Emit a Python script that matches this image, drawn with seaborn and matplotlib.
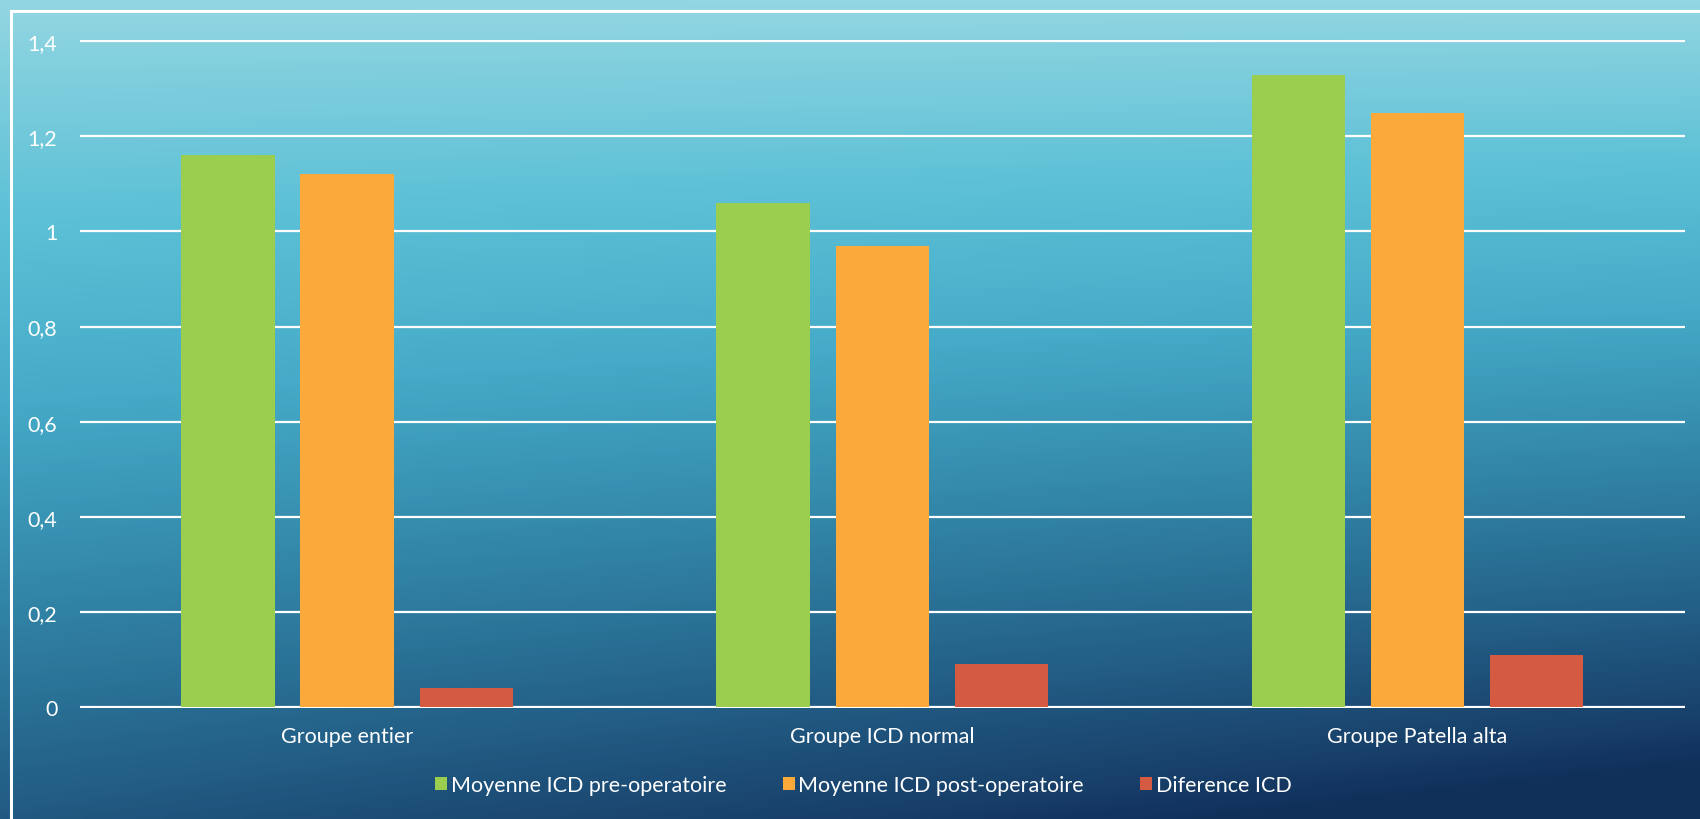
import numpy as np
import pandas as pd
import matplotlib
matplotlib.use("Agg")
import matplotlib.pyplot as plt
import matplotlib.patches as mpatches
from matplotlib.colors import LinearSegmentedColormap
import seaborn as sns

# ---- data ----
categories = ["Groupe entier", "Groupe ICD normal", "Groupe Patella alta"]
series = ["Moyenne ICD pre-operatoire", "Moyenne ICD post-operatoire", "Diference ICD"]
pre_values = [1.16, 1.06, 1.33]
post_values = [1.12, 0.97, 1.25]
diff_values = [0.04, 0.09, 0.11]
y_ticks = [0, 0.2, 0.4, 0.6, 0.8, 1.0, 1.2, 1.4]
y_tick_labels = ["0", "0,2", "0,4", "0,6", "0,8", "1", "1,2", "1,4"]
colors = ["#9BCD4E", "#FBA93B", "#D55A42"]

rows = []
for s, vals in zip(series, [pre_values, post_values, diff_values]):
    for c, v in zip(categories, vals):
        rows.append({"category": c, "series": s, "value": v})
df = pd.DataFrame(rows)

sns.set_theme(style="white")
plt.rcParams["font.family"] = ["Lato", "DejaVu Sans"]

W, H = 1700, 820
fig = plt.figure(figsize=(W / 100, H / 100), dpi=100)

# ---- background gradient ----
bg_ax = fig.add_axes([0, 0, 1, 1], zorder=-10)
bg_ax.set_axis_off()
ny, nx = 200, 400
yy, xx = np.mgrid[0:1:ny * 1j, 0:1:nx * 1j]
t = np.clip(0.82 * yy + 0.25 * xx * yy, 0, 1)
stops = [(0.0, "#92d6e1"), (0.22, "#5cc0d6"), (0.4, "#45abc8"),
         (0.6, "#3286a8"), (0.8, "#235e86"), (0.95, "#173e68"), (1.0, "#10305a")]
cmap = LinearSegmentedColormap.from_list("bg", stops)
bg_ax.imshow(t, cmap=cmap, vmin=0, vmax=1, aspect="auto", extent=[0, 1, 0, 1],
             origin="upper", interpolation="bilinear")
bg_ax.set_xlim(0, 1)
bg_ax.set_ylim(0, 1)

# white frame (extends beyond right and bottom)
frame = mpatches.Rectangle((11 / W, -0.2), 1.3, 1 - 12 / H + 0.2, fill=False,
                           ec="white", lw=2.2, transform=fig.transFigure, zorder=-5)
fig.patches.append(frame)

# ---- main axes ----
left, right = 79.5 / W, 1685 / W
bottom, top = 1 - 709 / H, 1 - 41.3 / H
ax = fig.add_axes([left, bottom, right - left, top - bottom])
ax.patch.set_alpha(0)

sns.barplot(data=df, x="category", y="value", hue="series", order=categories,
            hue_order=series, palette=colors, width=0.668, gap=0.218,
            saturation=1, linewidth=0, edgecolor="none", ax=ax, legend=True)

ax.set_xlim(-0.5, 2.5)
ax.set_ylim(-0.002, 1.402)
ax.set_yticks(y_ticks)
ax.set_yticklabels(y_tick_labels)
ax.set_axisbelow(True)
ax.yaxis.grid(True, color="white", lw=1.6)
ax.xaxis.grid(False)
for sp in ax.spines.values():
    sp.set_visible(False)
ax.set_xlabel("")
ax.set_ylabel("")
ax.tick_params(axis="y", length=0, pad=16, labelcolor="white", labelsize=15.5)
ax.tick_params(axis="x", length=0, pad=13, labelcolor="white", labelsize=15.5)

handles, labels = ax.get_legend_handles_labels()
ax.legend_.remove()
leg = fig.legend(handles, labels, loc="center", bbox_to_anchor=(863.5 / W, 1 - 786 / H),
                 bbox_transform=fig.transFigure, ncol=3, frameon=False,
                 fontsize=15.5, handlelength=0.55, handleheight=0.55,
                 handletextpad=0.18, columnspacing=2.6)
for txt in leg.get_texts():
    txt.set_color("white")

fig.savefig("out.png", dpi=100)
